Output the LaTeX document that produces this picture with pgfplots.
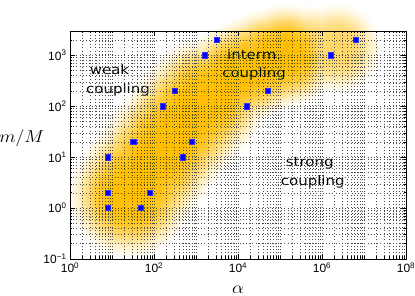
\documentclass[border=0pt]{standalone}
\usepackage{fontspec}
\setmainfont{Liberation Sans}
\newfontfamily\dejavu{DejaVu Sans}
\usepackage{graphicx}
\usepackage{pgfplots}
\pgfplotsset{compat=1.18}

\definecolor{blobcol}{RGB}{255,188,0}
\colorlet{blobl}{blobcol!60!white}
\pgfdeclareradialshading{blobshade}{\pgfpointorigin}{color(0bp)=(blobcol); color(8bp)=(blobcol!97!white); color(13bp)=(blobcol!80!white); color(17bp)=(blobcol!52!white); color(21bp)=(blobcol!20!white); color(25bp)=(white); color(50bp)=(white)}
\pgfdeclareradialshading{blobshadel}{\pgfpointorigin}{color(0bp)=(blobl); color(8bp)=(blobl!97!white); color(13bp)=(blobl!80!white); color(17bp)=(blobl!52!white); color(21bp)=(blobl!20!white); color(25bp)=(white); color(50bp)=(white)}
\pgfdeclareplotmark{blob}{\begin{scope}[blend mode=darken]\shade[shading=blobshade, draw=none] (0pt,0pt) circle[radius=\pgfplotmarksize];\end{scope}}
\pgfdeclareplotmark{blobl}{\begin{scope}[blend mode=darken]\shade[shading=blobshadel, draw=none] (0pt,0pt) circle[radius=\pgfplotmarksize];\end{scope}}

\pgfplotstableread{
a m
8 1
8 2
8 10
48 1
80 2
480 10
32 20
800 20
160 100
316 200
1600 1000
3162 2000
16000 100
50000 200
1.6e6 1000
6.3e6 2000
}\points

\pgfplotstableread{
a m
26 1.8
46 3.7
106 9.2
215 19.8
416 39
803 77
1638 138
}\blobmain

\pgfplotstableread{
a m
3728 238
8480 410
19300 560
51800 800
1.32e5 1000
}\blobupper

\pgfplotstableread{
a m
5.2e5 1300
2.2e6 1400
}\blobtail

\begin{document}
\begin{tikzpicture}
\begin{axis}[
  name=ax,
  width=336pt, height=228pt, scale only axis,
  xmode=log, ymode=log,
  xmin=1, xmax=1e8, ymin=0.1, ymax=3000,
  clip=false, axis on top,
  axis line style={black, line width=0.6pt},
  xtick={1,100,1e4,1e6,1e8},
  xticklabels={10\textsuperscript{0},10\textsuperscript{2},10\textsuperscript{4},10\textsuperscript{6},10\textsuperscript{8}},
  minor xtick={2,3,4,5,6,7,8,9,10,20,30,40,50,60,70,80,90,200,300,400,500,600,700,800,900,1000,2000,3000,4000,5000,6000,7000,8000,9000,2e4,3e4,4e4,5e4,6e4,7e4,8e4,9e4,1e5,2e5,3e5,4e5,5e5,6e5,7e5,8e5,9e5,2e6,3e6,4e6,5e6,6e6,7e6,8e6,9e6,1e7,2e7,3e7,4e7,5e7,6e7,7e7,8e7,9e7},
  ytick={0.1,1,10,100,1000},
  yticklabels={10\textsuperscript{−1},10\textsuperscript{0},10\textsuperscript{1},10\textsuperscript{2},10\textsuperscript{3}},
  minor ytick={0.2,0.3,0.4,0.5,0.6,0.7,0.8,0.9,2,3,4,5,6,7,8,9,20,30,40,50,60,70,80,90,200,300,400,500,600,700,800,900,2000,3000},
  tick label style={font=\fontsize{12}{14}\selectfont},
  major tick length=5pt, minor tick length=2.5pt,
  tick style={black, line width=0.5pt},
  grid=both,
  major grid style={black!70, line width=0.4pt, dash pattern=on 0.4pt off 2.8pt},
  minor grid style={black!70, line width=0.4pt, dash pattern=on 0.4pt off 2.8pt},
]
\addplot[only marks, mark=blob, mark size=62pt] table[x=a,y=m] {\blobmain};
\addplot[only marks, mark=blob, mark size=52pt] table[x=a,y=m] {\blobupper};
\addplot[only marks, mark=blobl, mark size=45pt] table[x=a,y=m] {\blobtail};
\addplot[only marks, mark=square*, mark size=2.6pt, color=blue, mark options={fill=blue, draw=blue!80!white}] table[x=a,y=m] {\points};

\node[anchor=base, inner sep=0pt, font=\dejavu\fontsize{13}{15}\selectfont] at (rel axis cs:0.1176,0.811) {\scalebox{1.15}[1]{weak}};
\node[anchor=base, inner sep=0pt, font=\dejavu\fontsize{13}{15}\selectfont] at (rel axis cs:0.1429,0.724) {\scalebox{1.15}[1]{coupling}};
\node[anchor=base, inner sep=0pt, font=\dejavu\fontsize{13}{15}\selectfont] at (rel axis cs:0.548,0.875) {\scalebox{1.15}[1]{interm.}};
\node[anchor=base, inner sep=0pt, font=\dejavu\fontsize{13}{15}\selectfont] at (rel axis cs:0.548,0.794) {\scalebox{1.15}[1]{coupling}};
\node[anchor=base, inner sep=0pt, font=\dejavu\fontsize{13}{15}\selectfont] at (rel axis cs:0.7134,0.405) {\scalebox{1.15}[1]{strong}};
\node[anchor=base, inner sep=0pt, font=\dejavu\fontsize{13}{15}\selectfont] at (rel axis cs:0.7226,0.3215) {\scalebox{1.15}[1]{coupling}};

\node[anchor=base, inner sep=0pt, font=\fontsize{17}{19}\selectfont] at (rel axis cs:-0.143,0.513) {\scalebox{1.1}[1]{$m/M$}};
\node[anchor=base, inner sep=0pt, font=\fontsize{17}{19}\selectfont] at (rel axis cs:0.5,-0.1535) {\scalebox{1.1}[1]{$\alpha$}};
\end{axis}
\pgfresetboundingbox
\path[use as bounding box] ([xshift=-70pt,yshift=-37pt]ax.south west) rectangle ([xshift=9pt,yshift=31pt]ax.north east);
\end{tikzpicture}
\end{document}
